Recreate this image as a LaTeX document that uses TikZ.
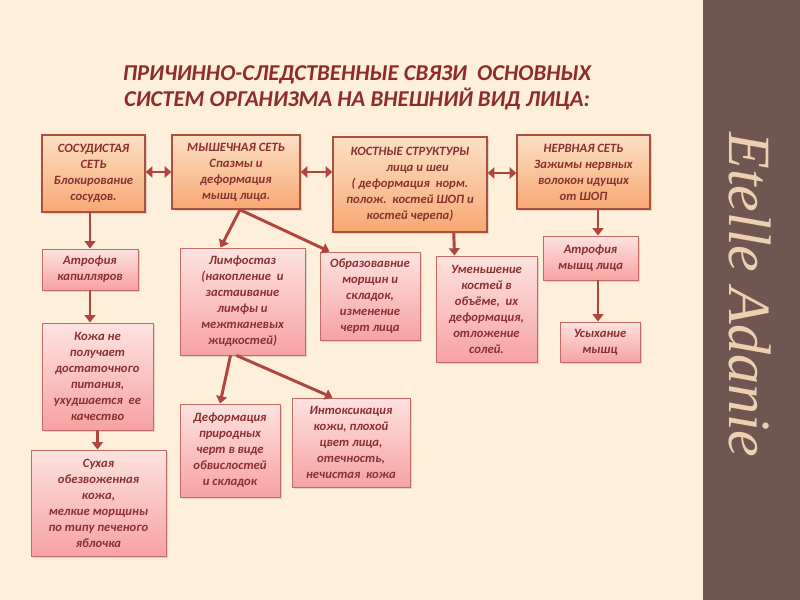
\documentclass[tikz,border=0pt]{standalone}
\usepackage{fontspec}
\setmainfont{Carlito}
\IfFontExistsTF{Carlito Bold Italic}
  {\newfontfamily\boxfont{Carlito Bold Italic}}
  {\newfontfamily\boxfont{Carlito}[FakeSlant=0.2]}
\IfFontExistsTF{Liberation Serif Italic}
  {\newfontfamily\signfont{Liberation Serif Italic}}
  {\newfontfamily\signfont{Liberation Serif}[FakeSlant=0.25]}
\usetikzlibrary{arrows.meta,calc,shadows}
\definecolor{bg}{HTML}{FDEFD9}
\definecolor{strip}{HTML}{6F5650}
\definecolor{signcol}{HTML}{ECD0B0}
\definecolor{titlecol}{HTML}{8E2B2B}
\definecolor{txtcol}{HTML}{8A3030}
\definecolor{topborder}{HTML}{A9503F}
\definecolor{toptop}{HTML}{FCE0C4}
\definecolor{topbot}{HTML}{F7A873}
\definecolor{pinkborder}{HTML}{C46A66}
\definecolor{pinktop}{HTML}{FDE3E0}
\definecolor{pinkbot}{HTML}{F6A2A2}
\definecolor{arrcol}{HTML}{B0443F}
\tikzset{
  bsize/.style 2 args={minimum width=#1*0.75pt, minimum height=#2*0.75pt},
  basebox/.style={align=center, inner sep=1pt, text=txtcol,
    font=\boxfont\bfseries\fontsize{9.5}{12}\selectfont,
    drop shadow={shadow xshift=1.5pt, shadow yshift=-1.5pt, opacity=0.25}},
  topbox/.style={basebox, draw=topborder, line width=1.1pt, top color=toptop, bottom color=topbot},
  pinkbox/.style={basebox, draw=pinkborder, line width=0.7pt, top color=pinktop, bottom color=pinkbot},
  arr/.style={draw=arrcol, line width=2.2pt, -{Triangle[length=5.5pt,width=8pt]}},
  darr/.style={draw=arrcol, line width=2.2pt, {Triangle[length=5pt,width=8.5pt]}-{Triangle[length=5pt,width=8.5pt]}}
}
\begin{document}
\begin{tikzpicture}[x=0.75pt,y=-0.75pt]
\useasboundingbox (0,0) rectangle (800,600);
\fill[bg] (0,0) rectangle (800,600);
\fill[strip] (703,0) rectangle (800,600);
\node[text=signcol, rotate=-90, font=\signfont\fontsize{45}{45}\selectfont] (sign) at (750,295) {Etelle Adanie};

\node[text=titlecol, align=center, font=\boxfont\bfseries\fontsize{17}{19.5}\selectfont] (title) at (357,88)
  {ПРИЧИННО-СЛЕДСТВЕННЫЕ СВЯЗИ\ \ ОСНОВНЫХ\\СИСТЕМ ОРГАНИЗМА НА ВНЕШНИЙ ВИД ЛИЦА:};

% top row
\node[topbox, bsize={103}{77}] (sos) at (93.5,173.5) {СОСУДИСТАЯ\\СЕТЬ\\Блокирование\\сосудов.};
\node[topbox, bsize={128}{74}] (mysh) at (236,172) {МЫШЕЧНАЯ СЕТЬ\\Спазмы и\\деформация\\мышц лица.};
\node[topbox, bsize={154}{95}] (kost) at (410,184.5) {КОСТНЫЕ СТРУКТУРЫ\\\hspace*{1.2em}лица и шеи\\( деформация\ \ норм.\\полож.\ \ костей ШОП и\\костей черепа)};
\node[topbox, bsize={133}{74}] (nerv) at (583.5,172) {НЕРВНАЯ СЕТЬ\\Зажимы нервных\\волокон идущих\\от ШОП};

% lower boxes
\node[pinkbox, bsize={96}{41}] (atrk) at (90,269.5) {Атрофия\\капилляров};
\node[pinkbox, bsize={125}{107}] (limf) at (242.5,301.5) {Лимфостаз\\(накопление\ \ и\\застаивание\\лимфы и\\межтканевых\\жидкостей)};
\node[pinkbox, bsize={100}{88}] (obr) at (370,296) {Образовавние\\морщин и\\складок,\\изменение\\черт лица};
\node[pinkbox, bsize={101}{106}] (umen) at (486.5,309) {Уменьшение\\костей в\\объёме,\ \ их\\деформация,\\отложение\\солей.};
\node[pinkbox, bsize={95}{44}] (atrm) at (590.5,258) {Атрофия\\мышц лица};
\node[pinkbox, bsize={80}{40}] (usyh) at (600,342) {Усыхание\\мышц};
\node[pinkbox, bsize={111}{107}] (kozha) at (97.5,376.5) {Кожа не\\получает\\достаточного\\питания,\\ухудшается\ \ ее\\качество};
\node[pinkbox, bsize={135}{106}] (suh) at (98.5,503) {Сухая\\обезвоженная\\кожа,\\мелкие морщины\\по типу печеного\\яблочка};
\node[pinkbox, bsize={100}{93}] (def) at (230,450.5) {Деформация\\природных\\черт в виде\\обвислостей\\и складок};
\node[pinkbox, bsize={118}{89}] (intox) at (351,442.5) {Интоксикация\\кожи, плохой\\цвет лица,\\отечность,\\нечистая\ \ кожа};

% double arrows
\draw[darr] (sos.east |- 0,172) -- (mysh.west |- 0,172);
\draw[darr] (mysh.east |- 0,172) -- (kost.west |- 0,172);
\draw[darr] (kost.east |- 0,173) -- (nerv.west |- 0,173);

% arrows
\draw[arr] (sos.south -| atrk.north) -- (atrk.north);
\draw[arr] (atrk.south) -- (atrk.south |- kozha.north);
\draw[arr] (kozha.south) -- (suh.north -| kozha.south);
\draw[arr] ($(mysh.south)+(4,0)$) -- ($(limf.north)+(-22,0)$);
\draw[arr] ($(mysh.south)+(4,0)$) -- ($(obr.north west)+(10,0)$);
\draw[arr] ($(kost.south east)+(-34,0)$) -- ($(umen.north)+(-32,0)$);
\draw[arr] (nerv.south -| 598,0) -- (atrm.north -| 598,0);
\draw[arr] (atrm.south -| 598,0) -- (usyh.north -| 598,0);
\draw[arr] ($(limf.south)+(-12,0)$) -- ($(def.north)+(-10,0)$);
\draw[arr] ($(limf.south)+(-6,0)$) -- ($(intox.north west)+(41,0)$);
\end{tikzpicture}
\end{document}
